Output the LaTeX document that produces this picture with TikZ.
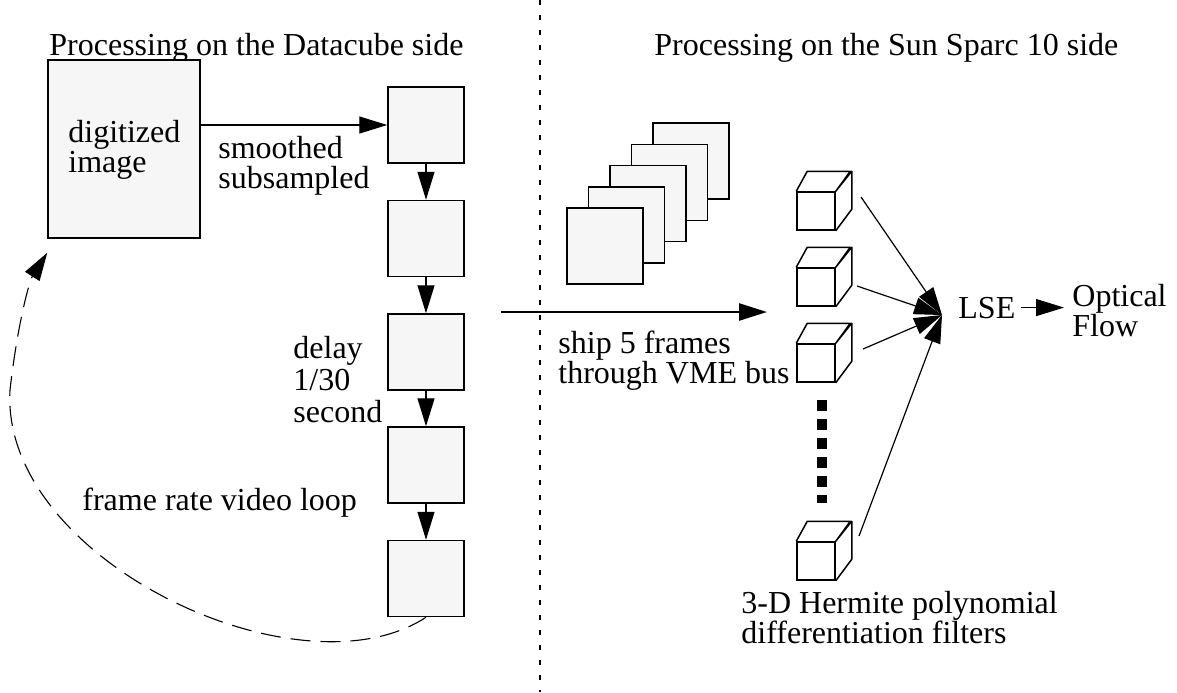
\documentclass[tikz,border=0pt]{standalone}
\usepackage{fontspec}
\setmainfont{Liberation Serif}
\usepackage{tikz}
\usetikzlibrary{positioning}
\usetikzlibrary{arrows.meta}
\usetikzlibrary{calc}
\newcommand{\mytikznormalfontsize}{\fontsize{16}{15}\selectfont}
\newcommand{\mytikzloosefontsize}{\fontsize{16}{16}\selectfont}
\definecolor{boxgray}{HTML}{F6F6F6}
\tikzstyle{framebox}=[
    draw,
    fill=boxgray,
    minimum size=38pt,
    inner sep=0pt,
    line width=0.75pt
]
\tikzstyle{cubeface}=[
    draw,
    fill=white,
    minimum size=19pt,
    inner sep=0pt,
    line width=0.75pt
]
\tikzstyle{cubeedge}=[line width=0.75pt,line join=round]
\tikzstyle{mylabel}=[draw=none,inner sep=0pt,align=left]
\tikzstyle{flowarrow}=[->,line width=0.6pt]
\tikzstyle{fanarrow}=[->,line width=0.6pt]
\tikzstyle{shiparrow}=[->,line width=1.3pt]
\tikzstyle{looparrow}=[->,line width=0.55pt,dash pattern=on 10pt off 5pt]
\tikzstyle{divider}=[line width=0.6pt,dash pattern=on 2.5pt off 5pt]
\tikzstyle{dotsline}=[line width=5pt,dash pattern=on 5.5pt off 4pt]
\tikzstyle{mytikzpipelineoptions}=[
    x=0.5pt,y=-0.5pt,
    every path/.append style={>={Triangle[length=14pt,width=8.5pt]}},
    thin,
    font=\mytikznormalfontsize
]
\newcommand{\filtercube}[2]{
    \node[cubeface] (#1) at #2 {};
    \draw[cubeedge] (#1.north west) -- ++(11,-20) -- ++(43,0) -- (#1.north east)
                    -- ++(16,-20) -- ++(0,38) -- (#1.south east);
}

\begin{document}
\begin{tikzpicture}[mytikzpipelineoptions]
    \useasboundingbox (0,0) rectangle (1177,692);

    % headings and divider
    \node[mylabel,anchor=base west] (dchead) at (49,55) {Processing on the Datacube side};
    \node[mylabel,anchor=base west] (sunhead) at (654,55) {Processing on the Sun Sparc 10 side};
    \coordinate (divtop) at (540,0);
    \coordinate (divbot) at (540,692);
    \draw[divider] (divtop) -- (divbot);

    % datacube side
    \node[framebox,minimum width=76pt,minimum height=89pt] (digit) at (124,149) {};
    \node[mylabel,anchor=north west] (digittext) at (68,120) {digitized\\image};
    \foreach \i/\y in {1/125,2/238.5,3/352,4/465,5/578.5}
        \node[framebox] (buf\i) at (426,\y) {};
    \node[mylabel,anchor=north west] (smooth) at (218,136) {smoothed\\subsampled};
    \node[mylabel,anchor=north west,font=\mytikzloosefontsize] (delay) at (293,336) {delay\\1/30\\second};
    \node[mylabel,anchor=base west] (looptext) at (82,510) {frame rate video loop};
    \coordinate (loopleft) at (10,390);
    \coordinate (loopend) at ([yshift=-7pt]digit.south west);

    \draw[flowarrow] (digit.east |- buf1) -- (buf1.west);
    \foreach \i/\j in {1/2,2/3,3/4,4/5}
        \draw[flowarrow] (buf\i) -- (buf\j);
    \draw[looparrow] (buf5.south) .. controls (300,700) and (0,560) .. (loopleft)
                     .. controls (18,320) and (30,280) .. (loopend);

    % sun side
    \foreach \i in {4,3,...,0}
        \node[framebox] (frame\i) at ({605+21.5*\i},{246-21.25*\i}) {};
    \coordinate (shipstart) at (501,312);
    \coordinate (shipend) at (767,312);
    \draw[shiparrow] (shipstart) -- (shipend);
    \node[mylabel,anchor=north west] (shiptext) at (558,331) {ship 5 frames\\through VME bus};

    \filtercube{cube1}{(816,211)}
    \filtercube{cube2}{(816,287)}
    \filtercube{cube3}{(816,363)}
    \filtercube{cube4}{(816,561)}
    \draw[dotsline,shorten <=8.5pt,shorten >=19pt] ([xshift=3pt]cube3.south) -- ([xshift=3pt]cube4.north);
    \node[mylabel,anchor=north west] (hermite) at (741,591) {3-D Hermite polynomial\\differentiation filters};

    \node[mylabel,anchor=base west] (lse) at (958,318) {LSE};
    \node[mylabel,anchor=north west] (flow) at (1072,284) {Optical\\Flow};
    \coordinate (hub) at (942,315);
    \coordinate (c1out) at (861,197);
    \coordinate (c2out) at (857,286);
    \coordinate (c3out) at (863,349);
    \coordinate (c4out) at (859,536);

    % edges
    \foreach \c in {c1out,c2out,c3out,c4out}
        \draw[fanarrow] (\c) -- (hub);
    \draw[fanarrow,shorten <=2.5pt,shorten >=4pt] (lse.east) -- (lse.east -| flow.west);
\end{tikzpicture}
\end{document}
